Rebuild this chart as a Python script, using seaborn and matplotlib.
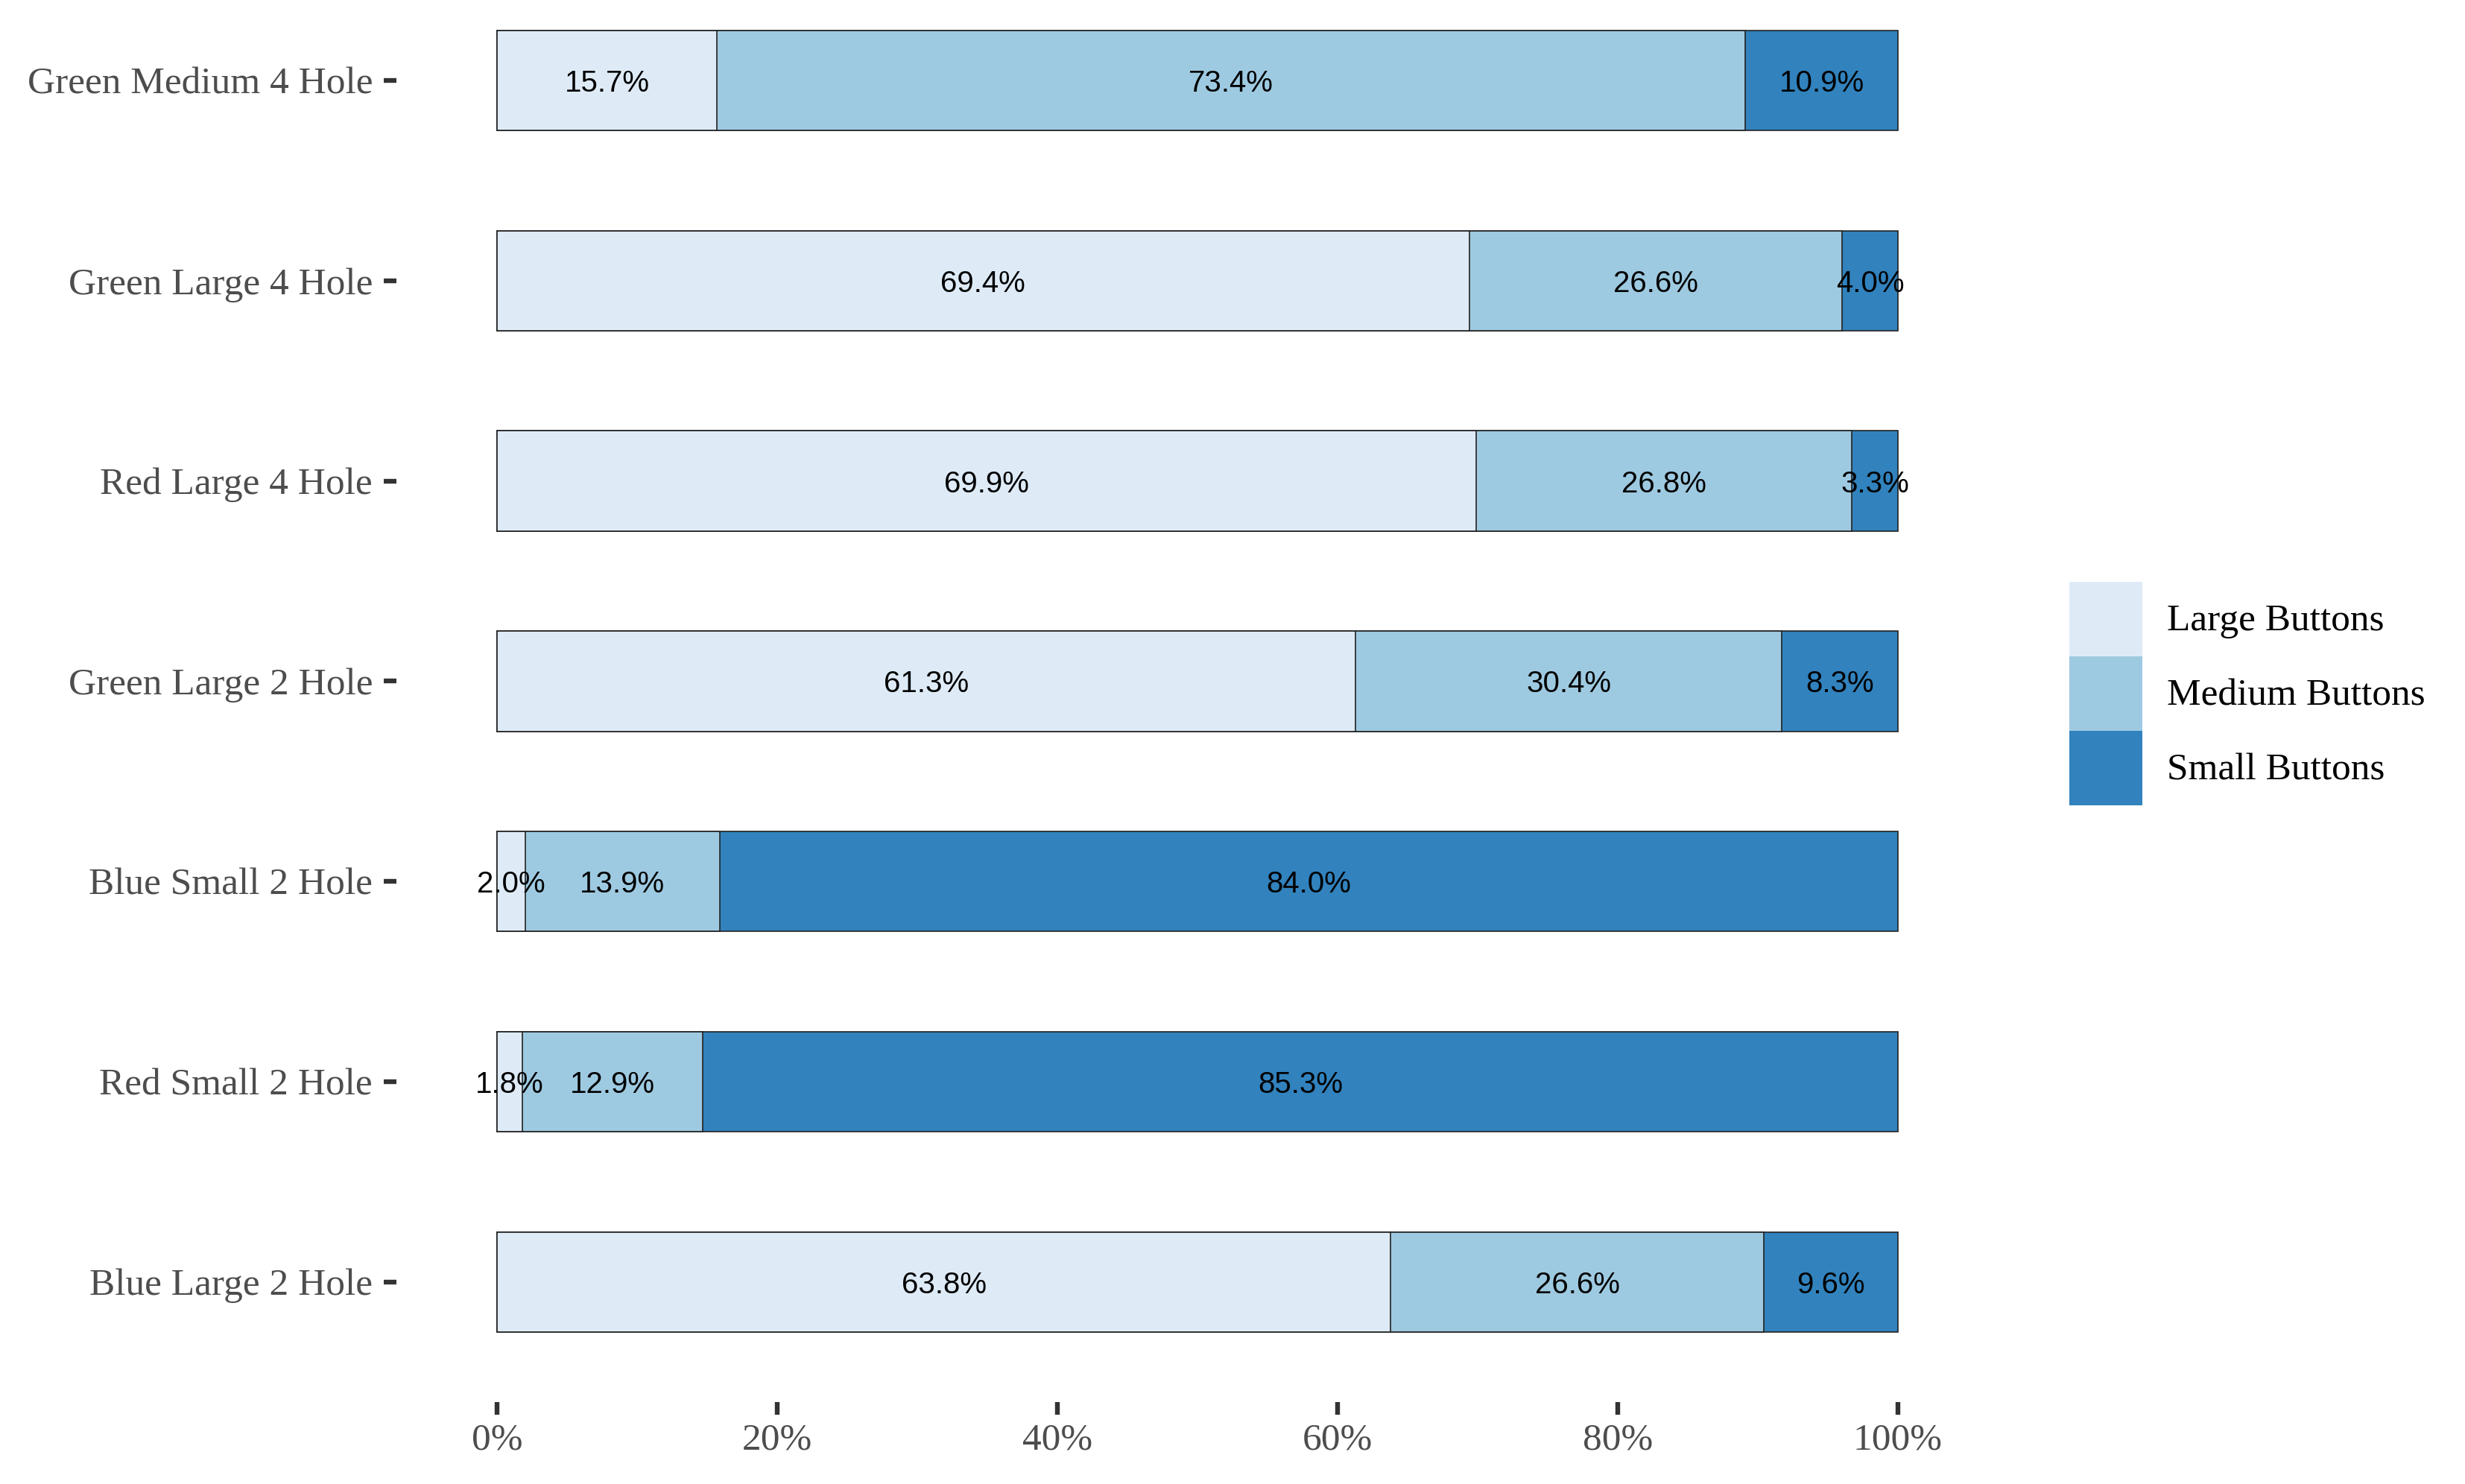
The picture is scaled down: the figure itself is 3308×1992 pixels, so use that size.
import numpy as np
import pandas as pd
import seaborn as sns
import matplotlib.pyplot as plt
from matplotlib.patches import Patch

# data (percent per product)
products = ["Green Medium 4 Hole", "Green Large 4 Hole", "Red Large 4 Hole",
            "Green Large 2 Hole", "Blue Small 2 Hole", "Red Small 2 Hole",
            "Blue Large 2 Hole"]
large = [15.7, 69.4, 69.9, 61.3, 2.0, 1.8, 63.8]
medium = [73.4, 26.6, 26.8, 30.4, 13.9, 12.9, 26.6]
small = [10.9, 4.0, 3.3, 8.3, 84.0, 85.3, 9.6]
series = ["Large Buttons", "Medium Buttons", "Small Buttons"]
colors = ["#DEEBF7", "#9ECAE1", "#3182BD"]
xticks = [0, 0.2, 0.4, 0.6, 0.8, 1.0]
xtick_labels = ["0%", "20%", "40%", "60%", "80%", "100%"]

df = pd.DataFrame({"product": products, "large": large,
                   "medium": medium, "small": small})
tot = df[["large", "medium", "small"]].sum(axis=1)
df["f_large"] = df["large"] / tot
df["f_medium"] = df["medium"] / tot
df["f_small"] = df["small"] / tot
df["c1"] = df["f_large"]
df["c2"] = df["f_large"] + df["f_medium"]
df["c3"] = df["c2"] + df["f_small"]

sns.set_theme(style="white")
plt.rcParams["font.family"] = ["Liberation Serif", "DejaVu Serif"]

W, H = 3308, 1992
fig = plt.figure(figsize=(W / 200, H / 200), dpi=200)
# panel in pixel coords: left 532, right 2682, bottom 1882, top 0
ax = fig.add_axes([532 / W, (H - 1882) / H, (2682 - 532) / W, 1882 / H])

bar_kw = dict(orient="h", order=products, width=0.5, errorbar=None,
              saturation=1, edgecolor="#222222", linewidth=0.6, ax=ax)
# stacked by overlaying cumulative totals
sns.barplot(data=df, x="c3", y="product", color=colors[2], **bar_kw)
sns.barplot(data=df, x="c2", y="product", color=colors[1], **bar_kw)
sns.barplot(data=df, x="c1", y="product", color=colors[0], **bar_kw)

# segment labels
for i, row in df.iterrows():
    starts = [0, row["c1"], row["c2"]]
    vals = [row["large"], row["medium"], row["small"]]
    fr = [row["f_large"], row["f_medium"], row["f_small"]]
    for s, v, f in zip(starts, vals, fr):
        ax.text(s + f / 2, i, f"{v:.1f}%", ha="center", va="center_baseline",
                fontsize=14.5, color="black", family="Liberation Sans")

pad = 135 / 1880
ax.set_xlim(-pad, 1 + pad)
ax.set_ylim(6.6, -108 / 268.8)
ax.set_xticks(xticks)
ax.set_xticklabels(xtick_labels)
ax.set_xlabel("")
ax.set_ylabel("")
for s in ax.spines.values():
    s.set_visible(False)
ax.tick_params(axis="both", which="major", length=6.1, width=2.3,
               color="#333333", labelsize=18.5, labelcolor="#4D4D4D",
               bottom=True, left=True)
ax.tick_params(axis="y", pad=5.4)
ax.tick_params(axis="x", pad=4)

handles = [Patch(facecolor=c, edgecolor="none", label=l)
           for c, l in zip(colors, series)]
fig.legend(handles=handles, loc="upper left",
           bbox_to_anchor=(2777 / W, 1 - 781 / H), borderaxespad=0,
           borderpad=0, frameon=False, fontsize=18.5, handlelength=1.9,
           handleheight=2.615, labelspacing=0, handletextpad=0.64,
           labelcolor="black")

fig.savefig("out.png", dpi=200, facecolor="white")
